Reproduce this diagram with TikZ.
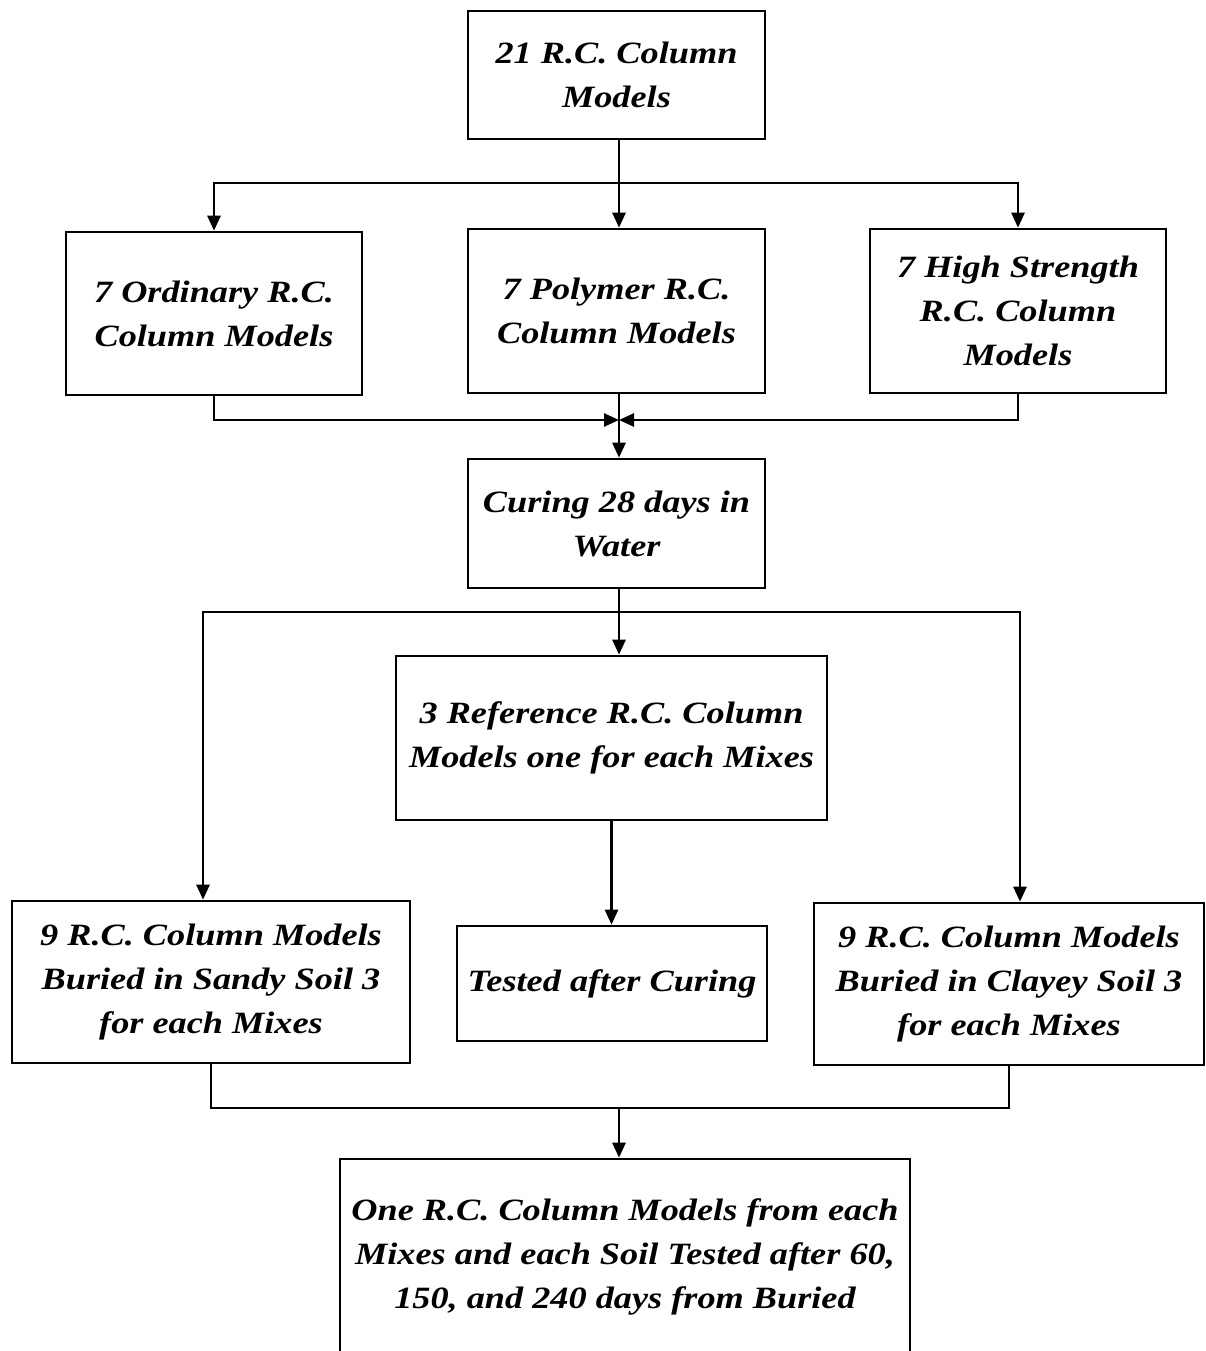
\documentclass[tikz,border=0pt]{standalone}
\usepackage{fontspec}
\setmainfont[FakeStretch=1.17]{Liberation Serif}
\usetikzlibrary{arrows.meta}
\begin{document}
\begin{tikzpicture}[x=1pt,y=-1pt,
  box/.style={draw, line width=2.6pt, inner sep=0pt, align=center,
    font=\bfseries\itshape\fontsize{31}{44}\selectfont},
  conn/.style={line width=2.6pt},
  arr/.style={conn, -{Triangle[length=15pt,width=13pt]}}]
\useasboundingbox (0,0) rectangle (1206,1351);
\node[box, minimum width=297pt, minimum height=128pt] (b1) at (616.5,75) {21 R.C. Column\\Models};
\node[box, minimum width=296pt, minimum height=163pt] (b2) at (214,313.5) {7 Ordinary R.C.\\Column Models};
\node[box, minimum width=297pt, minimum height=164pt] (b3) at (616.5,311) {7 Polymer R.C.\\Column Models};
\node[box, minimum width=296pt, minimum height=164pt] (b4) at (1018,311) {7 High Strength\\R.C. Column\\Models};
\node[box, minimum width=297pt, minimum height=129pt] (b5) at (616.5,523.5) {Curing 28 days in\\Water};
\node[box, minimum width=431pt, minimum height=164pt] (b6) at (611.5,738) {3 Reference R.C. Column\\Models one for each Mixes};
\node[box, minimum width=398pt, minimum height=162pt] (b7) at (211,982) {9 R.C. Column Models\\Buried in Sandy Soil 3\\for each Mixes};
\node[box, minimum width=310pt, minimum height=115pt] (b8) at (612,983.5) {Tested after Curing};
\node[box, minimum width=390pt, minimum height=162pt] (b9) at (1009,984) {9 R.C. Column Models\\Buried in Clayey Soil 3\\for each Mixes};
\node[box, minimum width=570pt, minimum height=196pt] (b10) at (625,1257) {One R.C. Column Models from each\\Mixes and each Soil Tested after 60,\\150, and 240 days from Buried};
% top split
\coordinate (j1) at (619,183);
\draw[conn] (b1.south -| j1) -- (j1);
\draw[arr] (j1) -| (b2.north);
\draw[arr] (j1) -- (b3.north -| j1);
\draw[arr] (j1) -| (b4.north);
% merge to curing
\coordinate (j2) at (619,420);
\draw[arr] (b2.south) |- (j2);
\draw[arr] (b4.south) |- (j2);
\draw[arr] (b3.south -| j2) -- (b5.north -| j2);
% split after curing
\coordinate (j3) at (619,612);
\coordinate (l3) at (203,612);
\coordinate (r3) at (1020,612);
\draw[arr] (b5.south -| j3) -- (b6.north -| j3);
\draw[arr] (j3) -- (l3) -- (b7.north -| l3);
\draw[arr] (j3) -- (r3) -- (b9.north -| r3);
\draw[arr] (b6.south) -- (b6.south |- b8.north);
% merge to final
\coordinate (j4) at (619,1108);
\draw[conn] (b7.south) |- (j4);
\draw[conn] (b9.south) |- (j4);
\draw[arr] (j4) -- (b10.north -| j4);
\end{tikzpicture}
\end{document}
